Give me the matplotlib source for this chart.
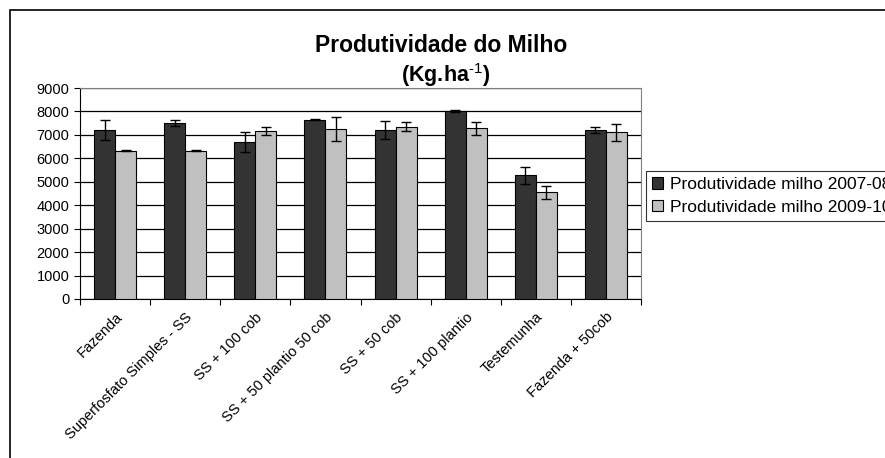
import numpy as np
import matplotlib.pyplot as plt
from matplotlib.patches import Rectangle

plt.rcParams['font.family'] = ['Liberation Sans', 'DejaVu Sans']
plt.rcParams['mathtext.fontset'] = 'custom'
plt.rcParams['mathtext.bf'] = 'Liberation Sans:bold'
plt.rcParams['mathtext.rm'] = 'Liberation Sans'

categorias = ['Fazenda', 'Superfosfato Simples - SS', 'SS + 100 cob',
              'SS + 50 plantio 50 cob', 'SS + 50 cob', 'SS + 100 plantio',
              'Testemunha', 'Fazenda + 50cob']
prod_0708 = [7215, 7510, 6710, 7650, 7215, 8030, 5275, 7215]
erro_0708 = [420, 110, 420, 30, 370, 40, 370, 130]
prod_0910 = [6315, 6315, 7160, 7245, 7355, 7285, 4545, 7105]
erro_0910 = [20, 20, 180, 500, 175, 270, 270, 380]
serie1 = 'Produtividade milho 2007-08'
serie2 = 'Produtividade milho 2009-10'

fig = plt.figure(figsize=(8.85, 4.58), dpi=100)
ax = fig.add_axes([80/885, 1-299/458, 561/885, 211/458])

x = np.arange(len(categorias))
w = 0.3
ax.bar(x - w/2, prod_0708, w, yerr=erro_0708, color='#333333', edgecolor='black',
       linewidth=0.8, error_kw=dict(elinewidth=1, capsize=3.5, capthick=1), label=serie1, zorder=3)
ax.bar(x + w/2, prod_0910, w, yerr=erro_0910, color='#c0c0c0', edgecolor='black',
       linewidth=0.8, error_kw=dict(elinewidth=1, capsize=3.5, capthick=1), label=serie2, zorder=3)

ax.set_xlim(-0.5, len(categorias) - 0.5)
ax.set_ylim(0, 9000)
ax.set_yticks(np.arange(0, 9001, 1000))
ax.yaxis.grid(True, color='black', linewidth=0.9)
ax.set_axisbelow(True)
ax.set_xticks(np.append(x - 0.5, len(categorias) - 0.5))
ax.set_xticklabels([''] * (len(categorias) + 1))
ax.set_xticks(x, minor=True)
ax.set_xticklabels(categorias, minor=True, rotation=45, ha='right',
                   rotation_mode='anchor', fontsize=10.5)
ax.tick_params(axis='x', which='minor', length=0, pad=8)
ax.tick_params(axis='x', which='major', length=4, direction='out')
ax.tick_params(axis='y', length=4, labelsize=10.5)
for s in ['top', 'right']:
    ax.spines[s].set_color('#808080')
ax.spines['left'].set_color('black')
ax.spines['bottom'].set_color('black')

fig.text(0.498, 1-45/458, 'Produtividade do Milho', ha='center', va='center',
         fontsize=16.5, fontweight='bold')
fig.text(0.504, 1-75/458, r'$\mathbf{(Kg.\!ha^{\text{-1}})}$', ha='center', va='center',
         fontsize=15.5)

leg = fig.legend(loc='upper left', bbox_to_anchor=(646/885, 1-171/458),
                 frameon=True, fancybox=False, edgecolor='black', fontsize=12.5,
                 handlelength=0.62, handleheight=0.62, handletextpad=0.4,
                 borderpad=0.35, labelspacing=0.45, borderaxespad=0)
leg.get_frame().set_linewidth(0.8)

fig.patches.append(Rectangle((10/885, -0.1), 1.2, 1.1 - 10/458, transform=fig.transFigure,
                             fill=False, edgecolor='black', linewidth=1.2))

fig.savefig('out.png', dpi=100)
